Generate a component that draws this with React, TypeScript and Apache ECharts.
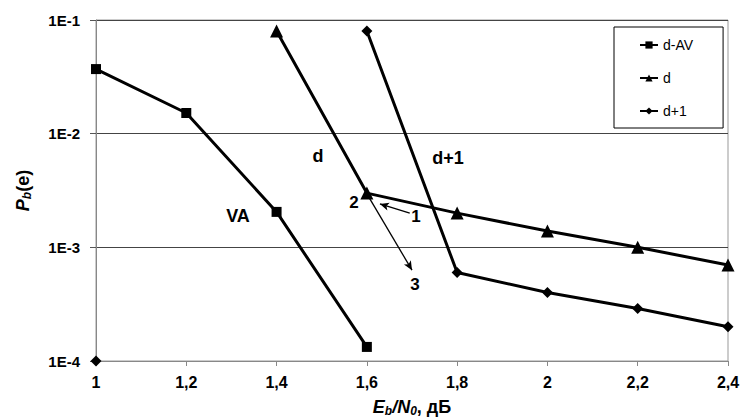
import React, { useEffect, useRef } from "react";
import * as echarts from "echarts";

const xTicks = [1, 1.2, 1.4, 1.6, 1.8, 2.0, 2.2, 2.4];
const dAV: [number, number][] = [
  [1, 0.037],
  [1.2, 0.0152],
  [1.4, 0.00205],
  [1.6, 0.000133],
];
const dSeries: [number, number][] = [
  [1.4, 0.08],
  [1.6, 0.003],
  [1.8, 0.002],
  [2.0, 0.00139],
  [2.2, 0.001],
  [2.4, 0.0007],
];
const dPlus1: any[] = [
  [1, 0.0001],
  [1.3, "-"],
  [1.6, 0.08],
  [1.8, 0.0006],
  [2.0, 0.0004],
  [2.2, 0.00029],
  [2.4, 0.0002],
];
// annotation arrows in data coordinates: [from, to]
const arrow1: [[number, number], [number, number]] = [
  [1.695, 0.002],
  [1.629, 0.00241],
];
const arrow2: [[number, number], [number, number]] = [
  [1.606, 0.0027],
  [1.7, 0.00063],
];

const FONT = "Liberation Sans, Arial, sans-serif";
const bold = { fontFamily: FONT, fontWeight: "bold" as const };

export default function App() {
  const ref = useRef<HTMLDivElement>(null);
  useEffect(() => {
    const chart = echarts.init(ref.current!, null, { renderer: "svg" });
    const lineStyle = { color: "#000", width: 3 };
    const nameRich = {
      i: { ...bold, fontStyle: "italic", fontSize: 18, color: "#000" },
      s: { ...bold, fontStyle: "italic", fontSize: 12, color: "#000", verticalAlign: "bottom", padding: [9, 0, 0, 0] },
      n: { ...bold, fontSize: 18, color: "#000" },
    };
    chart.setOption({
      animation: false,
      backgroundColor: "#fff",
      textStyle: { fontFamily: FONT },
      grid: {
        left: 96,
        right: 12,
        top: 20,
        bottom: 57,
        outerBoundsMode: "none",
        containLabel: false,
        show: true,
        borderColor: "#999",
        borderWidth: 1,
      },
      legend: {
        orient: "vertical",
        left: 614,
        top: 27,
        backgroundColor: "#fff",
        borderColor: "#000",
        borderWidth: 1,
        padding: [11, 30, 10, 25],
        itemGap: 19,
        itemWidth: 18,
        itemHeight: 9,
        textStyle: { fontSize: 14, color: "#000", fontFamily: FONT },
        data: ["d-AV", "d", "d+1"],
      },
      xAxis: {
        type: "value",
        min: 1,
        max: 2.4,
        interval: 0.2,
        name: "{i|E}{s|b}{i|/N}{s|0}{n|, дБ}",
        nameLocation: "middle",
        nameGap: 35,
        nameTextStyle: { rich: nameRich },
        axisLine: { lineStyle: { color: "#888", width: 1 } },
        axisTick: { show: true, length: 5, lineStyle: { color: "#888" } },
        splitLine: { show: false },
        axisLabel: {
          ...bold,
          fontSize: 16,
          color: "#000",
          margin: 13,
          formatter: (v: number) => String(Number(v.toFixed(1))).replace(".", ","),
        },
      },
      yAxis: {
        type: "log",
        logBase: 10,
        min: 0.0001,
        max: 0.1,
        name: "{i|P}{s|b}{n|(e)}",
        nameLocation: "middle",
        nameRotate: 90,
        nameGap: 63,
        nameTextStyle: { rich: nameRich },
        axisLine: { show: true, lineStyle: { color: "#888", width: 1 } },
        axisTick: { show: true, length: 6, lineStyle: { color: "#555" } },
        minorTick: { show: false },
        splitLine: { show: true, lineStyle: { color: "#444", width: 1 } },
        axisLabel: {
          ...bold,
          fontSize: 15,
          color: "#000",
          margin: 16,
          formatter: (v: number) => "1E" + Math.round(Math.log10(v)),
        },
      },
      series: [
        {
          name: "d-AV",
          type: "line",
          data: dAV,
          symbol: "rect",
          symbolSize: 10,
          itemStyle: { color: "#000" },
          lineStyle,
        },
        {
          name: "d",
          type: "line",
          data: dSeries,
          symbol: "triangle",
          symbolSize: 13,
          itemStyle: { color: "#000" },
          lineStyle,
          markLine: {
            silent: true,
            symbol: ["none", "arrow"],
            symbolSize: [6, 9],
            lineStyle: { color: "#000", width: 1.3, type: "solid" },
            label: { show: false },
            data: [
              [{ coord: arrow1[0] }, { coord: arrow1[1] }],
              [{ coord: arrow2[0] }, { coord: arrow2[1] }],
            ],
          },
        },
        {
          name: "d+1",
          type: "line",
          data: dPlus1,
          connectNulls: false,
          symbol: "diamond",
          symbolSize: 11,
          itemStyle: { color: "#000" },
          lineStyle,
        },
      ],
      graphic: [
        { type: "text", x: 238, y: 216, style: { text: "VA", ...bold, fontSize: 18, fill: "#000", align: "center", verticalAlign: "middle" } },
        { type: "text", x: 318, y: 156, style: { text: "d", ...bold, fontSize: 18, fill: "#000", align: "center", verticalAlign: "middle" } },
        { type: "text", x: 448, y: 158, style: { text: "d+1", ...bold, fontSize: 18, fill: "#000", align: "center", verticalAlign: "middle" } },
        { type: "text", x: 354, y: 202, style: { text: "2", ...bold, fontSize: 17, fill: "#000", align: "center", verticalAlign: "middle" } },
        { type: "text", x: 416, y: 216, style: { text: "1", ...bold, fontSize: 17, fill: "#000", align: "center", verticalAlign: "middle" } },
        { type: "text", x: 415, y: 284, style: { text: "3", ...bold, fontSize: 17, fill: "#000", align: "center", verticalAlign: "middle" } },
      ],
    });
    return () => chart.dispose();
  }, []);
  return <div ref={ref} style={{ width: 740, height: 418, position: "absolute", left: 0, top: 0 }} />;
}
